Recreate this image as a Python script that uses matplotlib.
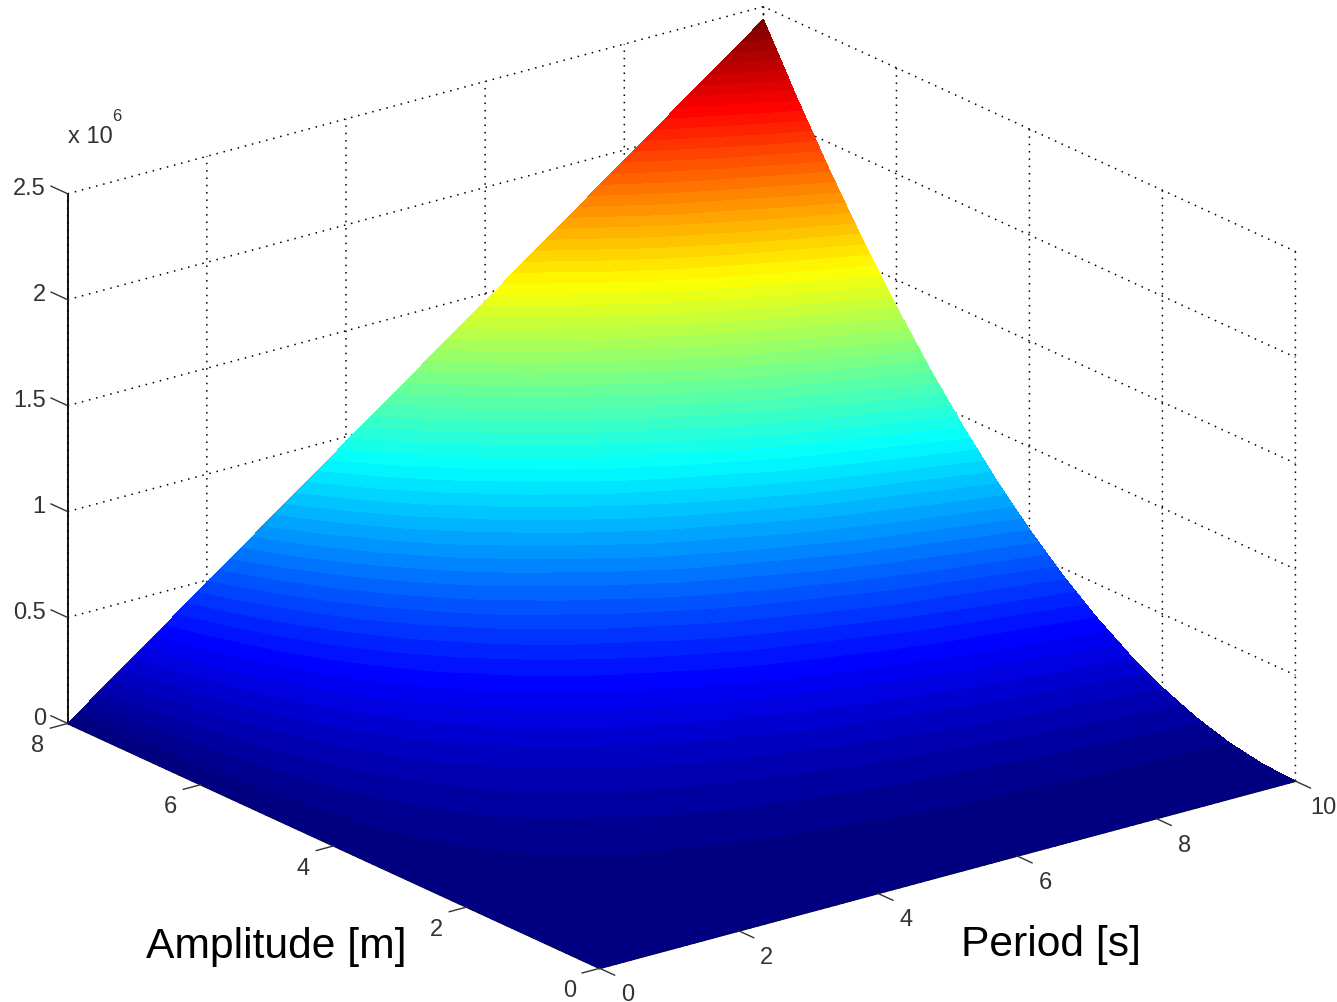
import numpy as np
import matplotlib
matplotlib.use("Agg")
import matplotlib.pyplot as plt
from matplotlib.colors import LinearSegmentedColormap
from mpl_toolkits.mplot3d import proj3d

plt.rcParams['font.family'] = ['Liberation Sans', 'DejaVu Sans']
plt.rcParams['grid.color'] = 'black'
plt.rcParams['grid.linestyle'] = (0, (1, 3.8))
plt.rcParams['grid.linewidth'] = 1.1

period = [0, 2, 4, 6, 8, 10]
amplitude = [0, 0.5, 1, 1.5, 2, 2.5, 3, 3.5, 4, 4.5, 5, 5.5, 6, 6.5, 7, 7.5, 8]
# power in units of 1e6, one row per amplitude, one column per period
power = [
    [0, 0.0000, 0.0000, 0.0000, 0.0000, 0.0000],
    [0, 0.0019, 0.0038, 0.0057, 0.0076, 0.0095],
    [0, 0.0076, 0.0152, 0.0229, 0.0305, 0.0381],
    [0, 0.0172, 0.0343, 0.0515, 0.0686, 0.0858],
    [0, 0.0305, 0.0610, 0.0915, 0.1220, 0.1525],
    [0, 0.0477, 0.0953, 0.1430, 0.1906, 0.2383],
    [0, 0.0686, 0.1372, 0.2059, 0.2745, 0.3431],
    [0, 0.0934, 0.1868, 0.2802, 0.3736, 0.4670],
    [0, 0.1220, 0.2440, 0.3660, 0.4880, 0.6100],
    [0, 0.1544, 0.3088, 0.4632, 0.6176, 0.7719],
    [0, 0.1906, 0.3812, 0.5718, 0.7624, 0.9530],
    [0, 0.2306, 0.4612, 0.6919, 0.9225, 1.1531],
    [0, 0.2745, 0.5490, 0.8234, 1.0979, 1.3724],
    [0, 0.3221, 0.6442, 0.9664, 1.2885, 1.6106],
    [0, 0.3736, 0.7472, 1.1207, 1.4943, 1.8679],
    [0, 0.4289, 0.8577, 1.2866, 1.7154, 2.1443],
    [0, 0.4880, 0.9760, 1.4640, 1.9520, 2.4400],
]
period_ticks = [0, 2, 4, 6, 8, 10]
amplitude_ticks = [0, 2, 4, 6, 8]
power_ticks = [0, 0.5, 1, 1.5, 2, 2.5]
power_labels = ['0', '0.5', '1', '1.5', '2', '2.5']

W, H = 1337, 1003
fig = plt.figure(figsize=(W / 100, H / 100), dpi=100)

side = 1003
cx, cy = 668, 502  # centre of the 3d axes in pixels from top left
ax = fig.add_axes([(cx - side / 2) / W, 1 - (cy + side / 2) / H, side / W, side / H],
                  projection='3d', proj_type='ortho')
ax.view_init(elev=20.6, azim=-127.4)
ax.set_box_aspect((876, 876, 566), zoom=1.318)
ax.set_xlim(0, 10, view_margin=0)
ax.set_ylim(0, 8, view_margin=0)
ax.set_zlim(0, 2.5, view_margin=0)
ax.patch.set_alpha(0)

for axis in (ax.xaxis, ax.yaxis, ax.zaxis):
    axis.set_pane_color((1, 1, 1, 0))
    axis.pane.set_edgecolor('none')
    axis.line.set_color('black')
    axis.line.set_linewidth(1.3)
    axis._axinfo['tick']['inward_factor'] = 0
    axis._axinfo['tick']['outward_factor'] = 0

ax.set_xticks(period_ticks)
ax.set_yticks(amplitude_ticks)
ax.set_zticks(power_ticks)
ax.xaxis.set_major_formatter(plt.NullFormatter())
ax.yaxis.set_major_formatter(plt.NullFormatter())
ax.zaxis.set_major_formatter(plt.NullFormatter())
ax.apply_aspect()


def to_screen(xs, ys, zs):
    # data coordinates to figure pixels, through the projection of the 3d axes
    xs, ys, zs = np.ravel(xs).astype(float), np.ravel(ys).astype(float), np.ravel(zs).astype(float)
    px, py, _ = proj3d.proj_transform(xs, ys, zs, ax.get_proj())
    out = ax.transData.transform(np.column_stack([px, py]))
    return out[:, 0], out[:, 1]


over = fig.add_axes([0, 0, 1, 1])
over.set_xlim(0, W)
over.set_ylim(0, H)
over.axis('off')
over.patch.set_alpha(0)

# the surface itself
T, A = np.meshgrid(period, amplitude)
Z = np.array(power)
sx, sy = to_screen(T, A, Z)
jet = LinearSegmentedColormap.from_list(
    'matlab_jet',
    [(0, (0, 0, 0.5)), (0.125, (0, 0, 1)), (0.375, (0, 1, 1)),
     (0.625, (1, 1, 0)), (0.875, (1, 0, 0)), (1, (0.5, 0, 0))], N=64)
over.contourf(sx.reshape(Z.shape), sy.reshape(Z.shape), Z,
              levels=np.linspace(0, Z.max(), 65), cmap=jet)

# ticks stick out of the box like in matlab, so they are drawn by hand
tick_col = '#333333'


def tick(xs, ys, zs, label_at, s, ha='center'):
    lx, ly = to_screen(xs, ys, zs)
    over.plot(lx, ly, color=tick_col, lw=1.0, clip_on=False)
    tx, ty = to_screen(*label_at)
    over.text(tx[0], ty[0], s, fontsize=17, color=tick_col, ha=ha, va='center', clip_on=True)


for v in period_ticks:
    tick([v, v], [0, -0.225], [0, 0], (v - 0.259, -0.691, 0), str(v))
for v in amplitude_ticks:
    tick([0, -0.25], [v, v], [0, 0], (-0.705, v - 0.28, 0), str(v))
for v, s in zip(power_ticks, power_labels):
    tick([0, 0], [8, 8.25], [v, v], (0, 8.33, v - 0.02), s, ha='right')


def pixel_text(x, y, s, **kw):
    over.text(x, H - y, s, **kw)


pixel_text(68, 137, 'x 10', fontsize=17, color='#333333', va='center', ha='left')
pixel_text(112, 116, '6', fontsize=12, color='#333333', va='center', ha='left')
pixel_text(146, 947, 'Amplitude [m]', fontsize=30.7, color='black', va='center', ha='left')
pixel_text(961, 945, 'Period [s]', fontsize=30.7, color='black', va='center', ha='left')

fig.savefig('out.png', dpi=100)
